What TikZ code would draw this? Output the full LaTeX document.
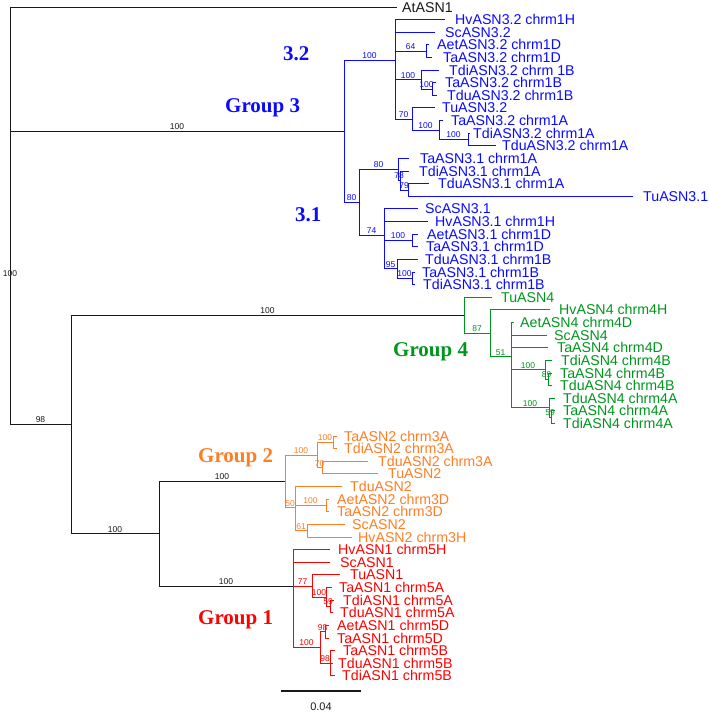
\documentclass[tikz,border=0pt]{standalone}
\usepackage{fontspec}
\setmainfont{Liberation Sans}
\newfontfamily\grpfont{Liberation Serif}
\definecolor{cblue}{RGB}{10,10,255}
\definecolor{cgreen}{RGB}{0,150,30}
\definecolor{corange}{RGB}{255,125,35}
\definecolor{cred}{RGB}{255,0,0}
\definecolor{cblack}{RGB}{25,25,25}
\tikzset{
  br/.style={line width=1pt},
  boot/.style={pos=0.75, anchor=south, inner sep=1pt, font=\fontsize{8.5}{9}\selectfont},
  leaf/.style={anchor=base west, inner sep=0pt, font=\fontsize{14.2}{16}\selectfont},
  grp/.style={anchor=base west, inner sep=0pt, font=\grpfont\bfseries\fontsize{21}{24}\selectfont},
}
% internal node: name, parent, x, y, support
\newcommand{\tnode}[5]{\coordinate (#1) at (#3,#4); \draw[br] (#2) |- node[boot] (#1-b) {#5} (#1);}
% leaf: name, parent, y, xend, xtext, text
\newcommand{\tleaf}[6]{\coordinate (#1) at (#4,#3); \draw[br] (#2) |- (#1); \node[leaf] (#1-t) at (#5,#3+5) {#6};}
\begin{document}
\begin{tikzpicture}[x=1pt,y=-1pt]
\useasboundingbox (0,0) rectangle (709,713);
\begin{scope}[color=cblack]
\coordinate (root) at (10,142.5);
\coordinate (R2) at (10,277.9);
\tleaf{At}{root}{7}{397}{402}{AtASN1}
\draw[br] (root) -- (R2);
\node[anchor=south, inner sep=1pt, font=\fontsize{8.5}{9}\selectfont] (R2-b) at (R2) {100};
\tnode{G3}{R2}{344}{131.3}{100}
\tnode{N98}{R2}{71}{424.5}{98}
\tnode{G4}{N98}{464}{315.2}{100}
\tnode{G12}{N98}{159}{533.8}{100}
\tnode{G2}{G12}{285}{481.3}{100}
\tnode{G1}{G12}{293}{586.4}{100}
\end{scope}
% Group 3
\begin{scope}[color=cblue]
\tnode{P32}{G3}{395}{60.4}{100}
\tleaf{HvB}{P32}{19.6}{445}{455}{HvASN3.2 chrm1H}
\tleaf{ScB}{P32}{32.2}{435}{445}{ScASN3.2}
\tnode{N64}{P32}{426}{51.2}{64}
\tleaf{AetB}{N64}{44.9}{429}{437}{AetASN3.2 chrm1D}
\tleaf{TaDB}{N64}{57.5}{432}{443}{TaASN3.2 chrm1D}
\tnode{Na}{P32}{421}{79.6}{100}
\tleaf{TdiBB}{Na}{70.1}{439}{449}{TdiASN3.2 chrm 1B}
\tnode{Nb}{Na}{432}{89}{100}
\tleaf{TaBB}{Nb}{82.7}{436}{445}{TaASN3.2 chrm1B}
\tleaf{TduBB}{Nb}{95.3}{437}{447}{TduASN3.2 chrm1B}
\tnode{N70}{P32}{412}{119.3}{70}
\tleaf{TuB}{N70}{107.9}{435}{442}{TuASN3.2}
\tnode{Nc}{N70}{439}{130.1}{100}
\tleaf{TaAB}{Nc}{120.6}{443}{451}{TaASN3.2 chrm1A}
\tnode{Nd}{Nc}{468}{139.5}{100}
\tleaf{TdiAB}{Nd}{133.2}{470}{473}{TdiASN3.2 chrm1A}
\tleaf{TduAB}{Nd}{145.8}{496}{502}{TduASN3.2 chrm1A}
\tnode{P31}{G3}{359}{202.2}{80}
\tnode{N80}{P31}{398}{169.5}{80}
\tleaf{TaA31}{N80}{158.4}{409}{420}{TaASN3.1 chrm1A}
\tnode{N78}{N80}{400}{180.5}{78}
\tleaf{TdiA31}{N78}{171}{409}{419}{TdiASN3.1 chrm1A}
\tnode{N79}{N78}{408}{190}{79}
\tleaf{TduA31}{N79}{183.7}{429}{438}{TduASN3.1 chrm1A}
\tleaf{Tu31}{N79}{196.3}{633}{643}{TuASN3.1}
\tnode{N74}{P31}{384}{235}{74}
\tleaf{Sc31}{N74}{208.9}{418}{425}{ScASN3.1}
\tleaf{Hv31}{N74}{221.5}{428}{435}{HvASN3.1 chrm1H}
\tnode{Ne}{N74}{412}{240.5}{100}
\tleaf{AetD31}{Ne}{234.1}{418}{427}{AetASN3.1 chrm1D}
\tleaf{TaD31}{Ne}{246.8}{418}{426}{TaASN3.1 chrm1D}
\tnode{N95}{N74}{397}{268.9}{95}
\tleaf{TduB31}{N95}{259.4}{418}{425}{TduASN3.1 chrm1B}
\tnode{Nf}{N95}{412}{278.3}{100}
\tleaf{TaB31}{Nf}{272}{415}{422}{TaASN3.1 chrm1B}
\tleaf{TdiB31}{Nf}{284.6}{415}{423}{TdiASN3.1 chrm1B}
\node[grp] (g32) at (283,60) {3.2};
\node[grp] (g3) at (225,112) {Group 3};
\node[grp] (g31) at (295,221) {3.1};
\end{scope}
% Group 4
\begin{scope}[color=cgreen]
\tleaf{Tu4}{G4}{297.2}{492}{501}{TuASN4}
\tnode{N87}{G4}{490}{333.3}{87}
\tleaf{Hv4}{N87}{309.9}{550}{559}{HvASN4 chrm4H}
\tnode{N51}{N87}{511}{356.6}{51}
\tleaf{Aet4}{N51}{322.5}{514}{520}{AetASN4 chrm4D}
\tleaf{Sc4}{N51}{335.1}{547}{554}{ScASN4}
\tleaf{Ta4D}{N51}{347.7}{548}{557}{TaASN4 chrm4D}
\tnode{Ng}{N51}{545}{369.8}{100}
\tleaf{Tdi4B}{Ng}{360.3}{552}{561}{TdiASN4 chrm4B}
\tnode{N89}{Ng}{548}{379.3}{89}
\tleaf{Ta4B}{N89}{373}{552}{560}{TaASN4 chrm4B}
\tleaf{Tdu4B}{N89}{385.6}{552}{560}{TduASN4 chrm4B}
\tnode{Nh}{N51}{549}{407.7}{100}
\tleaf{Tdu4A}{Nh}{398.2}{555}{563}{TduASN4 chrm4A}
\tnode{N59}{Nh}{551}{417.1}{59}
\tleaf{Ta4A}{N59}{410.8}{555}{563}{TaASN4 chrm4A}
\tleaf{Tdi4A}{N59}{423.4}{555}{563}{TdiASN4 chrm4A}
\node[grp] (g4) at (393,356) {Group 4};
\end{scope}
% Group 2
\begin{scope}[color=corange]
\tnode{Ni}{G2}{317}{455}{100}
\tnode{Nj}{Ni}{333}{442.4}{100}
\tleaf{Ta3A}{Nj}{436.1}{337}{344}{TaASN2 chrm3A}
\tleaf{Tdi3A}{Nj}{448.7}{337}{344}{TdiASN2 chrm3A}
\tnode{N70b}{Ni}{322}{467.6}{70}
\tleaf{Tdu3A}{N70b}{461.3}{368}{378}{TduASN2 chrm3A}
\tleaf{Tu2}{N70b}{473.9}{378}{388}{TuASN2}
\tnode{N50}{G2}{295}{507.6}{50}
\tleaf{Tdu2}{N50}{486.5}{342}{350}{TduASN2}
\tnode{Nk}{N50}{326}{505.5}{100}
\tleaf{Aet3D}{Nk}{499.2}{329}{337}{AetASN2 chrm3D}
\tleaf{Ta3D}{Nk}{511.8}{329}{337}{TaASN2 chrm3D}
\tnode{N61}{N50}{307}{530.7}{61}
\tleaf{Sc2}{N61}{524.4}{345}{352}{ScASN2}
\tleaf{Hv2}{N61}{537}{352}{358}{HvASN2 chrm3H}
\node[grp] (g2) at (198,462) {Group 2};
\end{scope}
% Group 1
\begin{scope}[color=cred]
\tleaf{Hv1}{G1}{549.6}{330}{338}{HvASN1 chrm5H}
\tleaf{Sc1}{G1}{562.3}{330}{340}{ScASN1}
\tnode{N77}{G1}{312}{586}{77}
\tleaf{Tu1}{N77}{574.9}{340}{350}{TuASN1}
\tnode{Nl}{N77}{326}{597}{100}
\tleaf{Ta5A}{Nl}{587.5}{332}{339}{TaASN1 chrm5A}
\tnode{N59b}{Nl}{330}{606.4}{59}
\tleaf{Tdi5A}{N59b}{600.1}{334}{343}{TdiASN1 chrm5A}
\tleaf{Tdu5A}{N59b}{612.7}{333}{340}{TduASN1 chrm5A}
\tnode{Nm}{G1}{320}{647.5}{100}
\tnode{N98a}{Nm}{325}{631.7}{98}
\tleaf{Aet5D}{N98a}{625.4}{329}{337}{AetASN1 chrm5D}
\tleaf{Ta5D}{N98a}{638}{329}{337}{TaASN1 chrm5D}
\tnode{N98b}{Nm}{330}{663.2}{98}
\tleaf{Ta5B}{N98b}{650.6}{335}{343}{TaASN1 chrm5B}
\tleaf{Tdu5B}{N98b}{663.2}{333}{338}{TduASN1 chrm5B}
\tleaf{Tdi5B}{N98b}{675.8}{335}{342}{TdiASN1 chrm5B}
\node[grp] (g1) at (198,624) {Group 1};
\end{scope}
% scale bar
\coordinate (sbL) at (281,690.7);
\coordinate (sbR) at (361,690.7);
\draw[line width=1.6pt, cblack] (sbL) -- (sbR);
\node[anchor=base, inner sep=0pt, font=\fontsize{11}{12}\selectfont, text=cblack] (sbt) at (321,710.5) {0.04};
\end{tikzpicture}
\end{document}
